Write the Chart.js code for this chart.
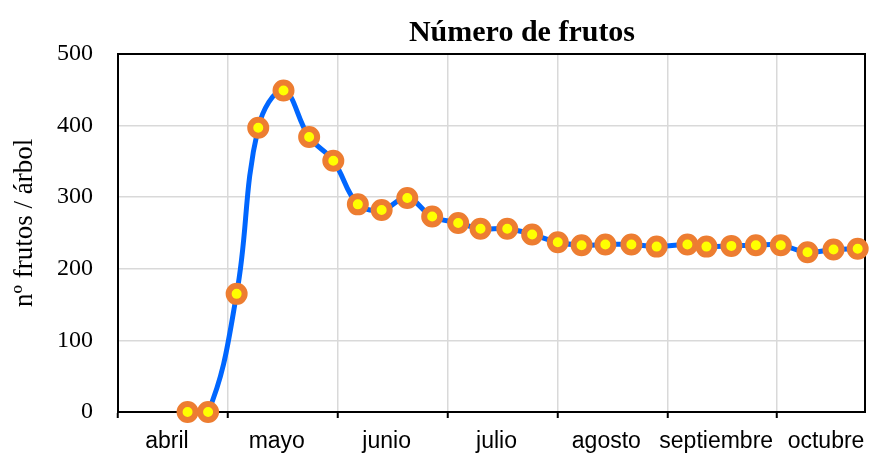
<!DOCTYPE html>
<html>
<head>
<meta charset="utf-8">
<script src="https://cdn.jsdelivr.net/npm/chart.js@4/dist/chart.umd.min.js"></script>
<style>
  body { margin: 0; background: #fff; }
  #caja { width: 871px; height: 453px; }
</style>
</head>
<body>
<div id="caja"><canvas id="frutosChart"></canvas></div>
<script>
// dias desde el 1 de abril (meses de 30 dias en el eje)
var dias = [19, 24.6, 32.4, 38.3, 45.2, 52.2, 58.8, 65.5, 72, 79, 85.8, 92.9, 99, 106.3,
  113.1, 120.1, 126.6, 133.1, 140.2, 147.1, 155.5, 160.7, 167.5, 174.2, 181, 188.3, 195.4, 202];
var frutos = [0, 0, 165, 397, 449, 384, 351, 290, 282, 299, 273, 264, 256, 256,
  248, 237, 233, 234, 234, 231, 234, 231, 232, 233, 233, 223, 227, 228];
var meses = ['abril', 'mayo', 'junio', 'julio', 'agosto', 'septiembre', 'octubre'];
var yTicks = [0, 100, 200, 300, 400, 500];

var puntos = dias.map(function (d, i) { return { x: d, y: frutos[i] }; });

var gris = '#d9d9d9';

// titulo y marco del area de trazado
var extras = {
  id: 'extras',
  beforeDatasetsDraw: function (chart) {
    var a = chart.chartArea;
    var ctx = chart.ctx;
    ctx.save();
    ctx.strokeStyle = '#000';
    ctx.lineWidth = 2;
    ctx.strokeRect(a.left, a.top, a.right - a.left, a.bottom - a.top);
    ctx.restore();
  },
  afterDraw: function (chart) {
    var ctx = chart.ctx;
    ctx.save();
    ctx.fillStyle = '#000';
    ctx.font = 'bold 30px "Liberation Serif"';
    ctx.textAlign = 'center';
    ctx.textBaseline = 'alphabetic';
    ctx.fillText('Número de frutos', 522, 41);
    ctx.restore();
  }
};

var ctx = document.getElementById('frutosChart');

var data = {
  datasets: [{
    label: 'nº frutos',
    data: puntos,
    borderColor: '#0066FF',
    borderWidth: 5,
    tension: 0.4,
    pointRadius: 8,
    pointBorderWidth: 6,
    pointBackgroundColor: '#FFFF00',
    pointBorderColor: '#ED7D31',
    clip: false
  }]
};

var options = {
  responsive: true,
  maintainAspectRatio: false,
  animation: false,
  layout: { autoPadding: false, padding: { top: 54, right: 6, left: 0, bottom: 0 } },
  plugins: {
    legend: { display: false },
    tooltip: { enabled: false }
  },
  scales: {
    x: {
      type: 'linear',
      min: 0,
      max: 204,
      afterBuildTicks: function (axis) {
        var t = [];
        for (var v = 0; v <= 195; v += 15) t.push({ value: v });
        axis.ticks = t;
      },
      afterFit: function (s) {
        s.height = 41;
        s.paddingLeft = 0;
        s.paddingRight = 0;
      },
      border: { display: true, color: '#000', width: 2 },
      grid: {
        color: function (c) { return c.tick && c.tick.value % 30 === 0 ? gris : 'rgba(0,0,0,0)'; },
        tickColor: function (c) { return c.tick && c.tick.value % 30 === 0 ? '#000' : 'rgba(0,0,0,0)'; },
        lineWidth: 1.5,
        tickWidth: 2,
        tickLength: 6
      },
      ticks: {
        autoSkip: false,
        maxRotation: 0,
        labelOffset: -6,
        padding: 10,
        color: '#000',
        font: { family: '"Liberation Sans"', size: 23 },
        callback: function (v) {
          return v % 30 === 15 ? meses[(v - 15) / 30] : '';
        }
      }
    },
    y: {
      min: 0,
      max: 500,
      afterBuildTicks: function (axis) {
        axis.ticks = yTicks.map(function (v) { return { value: v }; });
      },
      afterFit: function (s) { s.width = 118; },
      border: { display: true, color: '#000', width: 2 },
      grid: { color: gris, lineWidth: 1.5, drawTicks: false },
      ticks: {
        padding: 25,
        color: '#000',
        font: { family: '"Liberation Serif"', size: 24 }
      },
      title: {
        display: true,
        text: '   nº frutos / árbol',
        color: '#000',
        padding: { top: 9, bottom: 0 },
        font: { family: '"Liberation Serif"', size: 27 }
      }
    }
  }
};

var frutosChart = new Chart(ctx, {
  type: 'line',
  data: data,
  options: options,
  plugins: [extras]
});
</script>
</body>
</html>
